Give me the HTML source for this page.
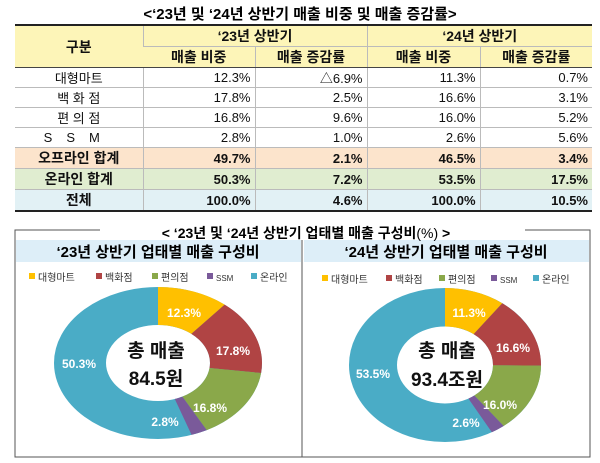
<!DOCTYPE html>
<html><head><meta charset="utf-8"><style>
body{margin:0;width:600px;height:463px;background:#fff;font-family:"Liberation Sans","Noto Sans CJK KR",sans-serif;position:relative;overflow:hidden}
.t{position:absolute;white-space:nowrap}
table{position:absolute;left:15px;top:24px;border-collapse:collapse;width:577px;font-size:13px;color:#111}
td{height:19px;padding:0 4px;border-left:1px solid #bbb;border-top:1px solid #bbb;text-align:right}
td:first-child{border-left:none;text-align:center}
.h td{background:#fdf5b8;text-align:center;font-weight:bold;font-size:14px}
.o td{background:#fce4cc;font-weight:bold}
.n td{background:#e0edd0;font-weight:bold}
.a td{background:#e2f1f5;font-weight:bold}
.b td:first-child{font-weight:bold;font-size:14px}
</style></head><body>
<div class="t" style="left:0;width:600px;text-align:center;top:3px;font-weight:bold;font-size:15px">&lt;‘23년 및 ‘24년 상반기 매출 비중 및 매출 증감률&gt;</div>
<table style="border-top:2px solid #222;border-bottom:2px solid #222">
<colgroup><col style="width:128px"><col style="width:112px"><col style="width:112px"><col style="width:113px"><col style="width:112px"></colgroup>
<tr class="h"><td rowspan="2" style="border-bottom:1px solid #444">구분</td><td colspan="2">‘23년 상반기</td><td colspan="2">‘24년 상반기</td></tr>
<tr class="h"><td style="border-bottom:1px solid #444">매출 비중</td><td style="border-bottom:1px solid #444">매출 증감률</td><td style="border-bottom:1px solid #444">매출 비중</td><td style="border-bottom:1px solid #444">매출 증감률</td></tr>
<tr><td>대형마트</td><td>12.3%</td><td>△6.9%</td><td>11.3%</td><td>0.7%</td></tr>
<tr><td>백 화 점</td><td>17.8%</td><td>2.5%</td><td>16.6%</td><td>3.1%</td></tr>
<tr><td>편 의 점</td><td>16.8%</td><td>9.6%</td><td>16.0%</td><td>5.2%</td></tr>
<tr><td style="letter-spacing:14px">SSM</td><td>2.8%</td><td>1.0%</td><td>2.6%</td><td>5.6%</td></tr>
<tr class="o b"><td>오프라인 합계</td><td>49.7%</td><td>2.1%</td><td>46.5%</td><td>3.4%</td></tr>
<tr class="n b"><td>온라인 합계</td><td>50.3%</td><td>7.2%</td><td>53.5%</td><td>17.5%</td></tr>
<tr class="a b"><td>전체</td><td>100.0%</td><td>4.6%</td><td>100.0%</td><td>10.5%</td></tr>
</table>

<svg width="600" height="463" style="position:absolute;left:0;top:0" font-family="Liberation Sans,Noto Sans CJK KR,sans-serif">
<path d="M100 230 H15 V457 H590 V230 H525" fill="none" stroke="#555" stroke-width="1"/>
<line x1="302" y1="240" x2="302" y2="457" stroke="#555"/>
<rect x="16" y="240" width="285" height="22" fill="#ddeef8"/>
<rect x="304" y="240" width="285" height="22" fill="#ddeef8"/>
<text x="306" y="238" text-anchor="middle" font-size="14" font-weight="bold">&lt; ‘23년 및 ‘24년 상반기 업태별 매출 구성비<tspan font-weight="normal">(%)</tspan> &gt;</text>
<text x="158" y="257" text-anchor="middle" font-size="15" font-weight="bold">‘23년 상반기 업태별 매출 구성비</text>
<text x="446" y="257" text-anchor="middle" font-size="15" font-weight="bold">‘24년 상반기 업태별 매출 구성비</text>
<g font-size="10" fill="#333">
<rect x="29" y="273" width="6" height="6" fill="#ffc000"/><text x="38" y="281">대형마트</text>
<rect x="96" y="273" width="6" height="6" fill="#b04444"/><text x="105" y="281">백화점</text>
<rect x="152" y="273" width="6" height="6" fill="#8aa84a"/><text x="161" y="281">편의점</text>
<rect x="207" y="273" width="6" height="6" fill="#7a5a9a"/><text x="216" y="281" font-size="8">SSM</text>
<rect x="251" y="273" width="6" height="6" fill="#4aacc6"/><text x="260" y="281">온라인</text>
<rect x="322" y="275" width="6" height="6" fill="#ffc000"/><text x="331" y="283">대형마트</text>
<rect x="386" y="275" width="6" height="6" fill="#b04444"/><text x="395" y="283">백화점</text>
<rect x="439" y="275" width="6" height="6" fill="#8aa84a"/><text x="448" y="283">편의점</text>
<rect x="491" y="275" width="6" height="6" fill="#7a5a9a"/><text x="500" y="283" font-size="8">SSM</text>
<rect x="533" y="275" width="6" height="6" fill="#4aacc6"/><text x="542" y="283">온라인</text>
</g>
<g transform="translate(158 363) scale(104 76) rotate(-90)" fill="none" stroke-width="0.5">
<circle r="0.75" stroke="#4aacc6"/>
<circle r="0.75" pathLength="100" stroke="#ffc000" stroke-dasharray="12.3 100" stroke-dashoffset="0"/>
<circle r="0.75" pathLength="100" stroke="#b04444" stroke-dasharray="17.8 100" stroke-dashoffset="-12.3"/>
<circle r="0.75" pathLength="100" stroke="#8aa84a" stroke-dasharray="16.8 100" stroke-dashoffset="-30.1"/>
<circle r="0.75" pathLength="100" stroke="#7a5a9a" stroke-dasharray="2.8 100" stroke-dashoffset="-46.9"/>
</g>
<g transform="translate(445 365) scale(96 77) rotate(-90)" fill="none" stroke-width="0.5">
<circle r="0.75" stroke="#4aacc6"/>
<circle r="0.75" pathLength="100" stroke="#ffc000" stroke-dasharray="11.3 100" stroke-dashoffset="0"/>
<circle r="0.75" pathLength="100" stroke="#b04444" stroke-dasharray="16.6 100" stroke-dashoffset="-11.3"/>
<circle r="0.75" pathLength="100" stroke="#8aa84a" stroke-dasharray="16.0 100" stroke-dashoffset="-27.9"/>
<circle r="0.75" pathLength="100" stroke="#7a5a9a" stroke-dasharray="2.6 100" stroke-dashoffset="-43.9"/>
</g>
<g fill="#fff" font-size="12" font-weight="bold" text-anchor="middle">
<text x="184" y="317">12.3%</text><text x="233" y="355">17.8%</text><text x="79" y="368">50.3%</text><text x="210" y="412">16.8%</text><text x="165" y="426">2.8%</text>
<text x="469" y="317">11.3%</text><text x="513" y="352">16.6%</text><text x="373" y="378">53.5%</text><text x="500" y="409">16.0%</text><text x="466" y="427">2.6%</text>
</g>
<g fill="#111" font-size="19" font-weight="bold" text-anchor="middle">
<text x="156" y="357">총 매출</text><text x="156" y="385">84.5원</text>
<text x="447" y="357">총 매출</text><text x="447" y="386">93.4조원</text>
</g>
</svg>
</body></html>
